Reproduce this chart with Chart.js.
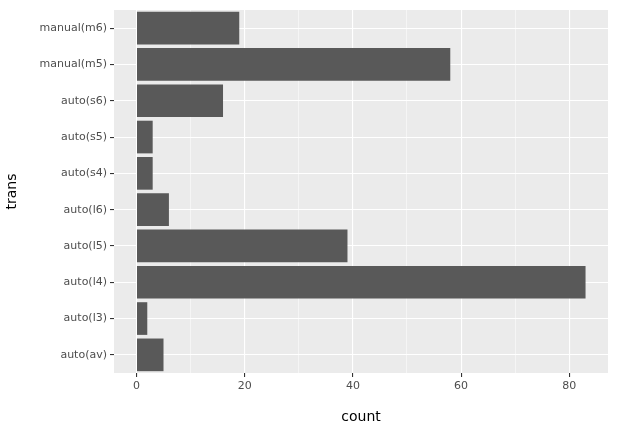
<!DOCTYPE html>
<html><head><meta charset="utf-8">
<script src="https://cdn.jsdelivr.net/npm/chart.js@4/dist/chart.umd.min.js"></script>
<style>html,body{margin:0;padding:0;background:#fff}#w{width:619px;height:430px}</style>
</head><body><div id="w"><canvas id="c"></canvas></div>
<script>
const categories = ["manual(m6)","manual(m5)","auto(s6)","auto(s5)","auto(s4)","auto(l6)","auto(l5)","auto(l4)","auto(l3)","auto(av)"];
const counts = [19,58,16,3,3,6,39,83,2,5];
const xTicks = [0,20,40,60,80];

const bg = {id:'bg',beforeDraw(ch){const a=ch.chartArea,c=ch.ctx;c.save();c.fillStyle='#EBEBEB';c.fillRect(a.left,a.top,a.right-a.left,a.bottom-a.top);c.restore();}};
const font = {family:'DejaVu Sans',size:11};
new Chart(document.getElementById('c'),{
 type:'bar',
 data:{labels:categories,datasets:[{data:counts,backgroundColor:'#595959',categoryPercentage:0.9,barPercentage:1}]},
 plugins:[bg],
 options:{indexAxis:'y',responsive:true,maintainAspectRatio:false,animation:false,
  layout:{padding:{top:10,right:11,left:0,bottom:0}},
  plugins:{legend:{display:false},tooltip:{enabled:false}},
  scales:{
   x:{min:-4.15,max:87.15,
    afterBuildTicks(s){s.ticks=[0,10,20,30,40,50,60,70,80].map(v=>({value:v}));},
    afterFit(s){s.height=57;},
    ticks:{autoSkip:false,maxRotation:0,color:'#4D4D4D',font,padding:3,callback:v=>xTicks.includes(v)?String(v):''},
    grid:{color:'#fff',lineWidth:c=>c.tick&&c.tick.value%20===0?1.1:0.5,tickLength:4,
      tickColor:c=>c.tick&&c.tick.value%20===0?'#333':'rgba(0,0,0,0)',drawTicks:true},
    border:{display:false},
    title:{display:true,text:'count',font:{family:'DejaVu Sans',size:14},color:'#000',padding:{top:4}}},
   y:{afterFit(s){s.width=114;},
    ticks:{color:'#4D4D4D',font,padding:3},
    grid:{color:'#fff',lineWidth:1.1,tickLength:4,tickColor:'#333',offset:false},
    border:{display:false},
    title:{display:true,text:'trans',font:{family:'DejaVu Sans',size:14},color:'#000',padding:{bottom:2}}}
  }}
});
</script></body></html>
